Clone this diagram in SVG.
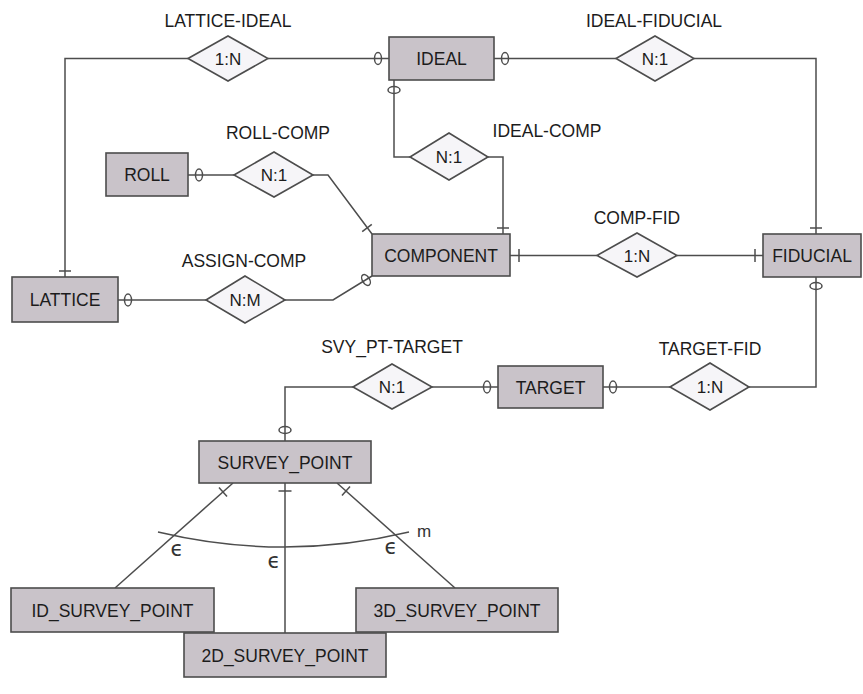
<svg xmlns="http://www.w3.org/2000/svg" width="863" height="694" viewBox="0 0 863 694">
  <style>
    .ent { fill: #c9c3c9; stroke: #4d4d4d; stroke-width: 1.6; }
    .rel { fill: #f6f5f8; stroke: #4d4d4d; stroke-width: 1.6; }
    .txt { font-family: "Liberation Sans", Arial, sans-serif; font-size: 17.5px; fill: #1c1c1c; text-anchor: middle; }
    .rtx { font-family: "Liberation Sans", Arial, sans-serif; font-size: 17px; fill: #1c1c1c; text-anchor: middle; }
    .lbl { font-family: "Liberation Sans", Arial, sans-serif; font-size: 17.5px; fill: #1c1c1c; text-anchor: middle; }
    .ln { fill: none; stroke: #4d4d4d; stroke-width: 1.5; }
    .opt { fill: none; stroke: #4d4d4d; stroke-width: 1.5; }
    .sym { font-family: "DejaVu Sans", sans-serif; font-size: 21px; fill: #333; text-anchor: middle; }
    .m { font-family: "Liberation Sans", Arial, sans-serif; font-size: 17px; fill: #333; text-anchor: middle; }
  </style>

  <!-- connectors -->
  <g id="connectors">
    <path class="ln" d="M65,277 V58.5 H188"/>
    <path class="ln" d="M268,58.5 H389"/>
    <path class="ln" d="M494,58.5 H616"/>
    <path class="ln" d="M694,58.5 H816 V234"/>
    <path class="ln" d="M394,80 V157 H410"/>
    <path class="ln" d="M488,157 H503 V234"/>
    <path class="ln" d="M188,175 H234"/>
    <path class="ln" d="M313,175 H328 L372,234"/>
    <path class="ln" d="M510,255.5 H597"/>
    <path class="ln" d="M677,255.5 H763"/>
    <path class="ln" d="M118,300 H206"/>
    <path class="ln" d="M285,300 H333 L372,276"/>
    <path class="ln" d="M285,441 V387 H353"/>
    <path class="ln" d="M432,387 H498"/>
    <path class="ln" d="M603,387 H670"/>
    <path class="ln" d="M749,387 H816 V277"/>
    <!-- specialisation of SURVEY_POINT -->
    <path class="ln" d="M233,483 L115,588"/>
    <path class="ln" d="M285,483 V633"/>
    <path class="ln" d="M337,483 L455,588"/>
    <path class="ln" d="M158,532 Q284,562 409,532"/>

    <!-- optional (zero) marks -->
    <ellipse class="opt" cx="378" cy="58.5" rx="3.5" ry="6"/>
    <ellipse class="opt" cx="505" cy="58.5" rx="3.5" ry="6"/>
    <ellipse class="opt" cx="394" cy="90" rx="6" ry="3.5"/>
    <ellipse class="opt" cx="816" cy="286" rx="6" ry="3.5"/>
    <ellipse class="opt" cx="199" cy="175" rx="3.5" ry="6"/>
    <ellipse class="opt" cx="128" cy="300" rx="3.5" ry="6"/>
    <ellipse class="opt" cx="0" cy="0" rx="3.5" ry="6" transform="translate(366,280) rotate(-31.6)"/>
    <ellipse class="opt" cx="285" cy="430" rx="6" ry="3.5"/>
    <ellipse class="opt" cx="487" cy="387" rx="3.5" ry="6"/>
    <ellipse class="opt" cx="613" cy="387" rx="3.5" ry="6"/>

    <!-- mandatory (one) ticks -->
    <path class="ln" d="M59,271 H71"/>
    <path class="ln" d="M497,228 H509"/>
    <path class="ln" d="M810,228 H822"/>
    <path class="ln" d="M519,249 V262"/>
    <path class="ln" d="M755,249 V262"/>
    <path class="ln" d="M362.2,231.6 L371.8,224.4"/>
    <path class="ln" d="M227,496.5 L219,487.5"/>
    <path class="ln" d="M278.5,491 H291.5"/>
    <path class="ln" d="M342,495.5 L350,486.5"/>

    <!-- subset and disjointness marks -->
    <text class="sym" x="177" y="556">ϵ</text>
    <text class="sym" x="274" y="568">ϵ</text>
    <text class="sym" x="391" y="554">ϵ</text>
    <text class="m" x="424" y="537">m</text>
  </g>

  <!-- entities -->
  <g id="ideal"><rect class="ent" x="389" y="37" width="105" height="43"/><text class="txt" x="441.5" y="65">IDEAL</text></g>
  <g id="roll"><rect class="ent" x="106" y="153" width="82" height="43"/><text class="txt" x="147" y="181">ROLL</text></g>
  <g id="component"><rect class="ent" x="372" y="234" width="138" height="42"/><text class="txt" x="441" y="261.5">COMPONENT</text></g>
  <g id="fiducial"><rect class="ent" x="763" y="234" width="98" height="43"/><text class="txt" x="812" y="262">FIDUCIAL</text></g>
  <g id="lattice"><rect class="ent" x="12" y="277" width="106" height="45"/><text class="txt" x="65" y="306">LATTICE</text></g>
  <g id="target"><rect class="ent" x="498" y="366" width="105" height="42"/><text class="txt" x="550.5" y="393.5">TARGET</text></g>
  <g id="survey_point"><rect class="ent" x="199" y="441" width="172" height="42"/><text class="txt" x="285" y="468.5">SURVEY_POINT</text></g>
  <g id="id_survey_point"><rect class="ent" x="11" y="588" width="203" height="44"/><text class="txt" x="112.5" y="616.5">ID_SURVEY_POINT</text></g>
  <g id="survey_point_2d"><rect class="ent" x="184" y="633" width="202" height="44"/><text class="txt" x="285" y="661.5">2D_SURVEY_POINT</text></g>
  <g id="survey_point_3d"><rect class="ent" x="356" y="588" width="202" height="44"/><text class="txt" x="457" y="616.5">3D_SURVEY_POINT</text></g>

  <!-- relationships -->
  <g id="lattice_ideal"><polygon class="rel" points="188,58.5 228,36 268,58.5 228,81"/><text class="rtx" x="228" y="64.5">1:N</text><text class="lbl" x="228" y="27">LATTICE-IDEAL</text></g>
  <g id="ideal_fiducial"><polygon class="rel" points="616,58.5 655,36 694,58.5 655,81"/><text class="rtx" x="655" y="64.5">N:1</text><text class="lbl" x="654" y="27">IDEAL-FIDUCIAL</text></g>
  <g id="ideal_comp"><polygon class="rel" points="410,157 449,133 488,157 449,180"/><text class="rtx" x="449" y="163">N:1</text><text class="lbl" x="547" y="137">IDEAL-COMP</text></g>
  <g id="roll_comp"><polygon class="rel" points="234,175 274,152 313,175 274,197"/><text class="rtx" x="274" y="181">N:1</text><text class="lbl" x="278" y="139">ROLL-COMP</text></g>
  <g id="comp_fid"><polygon class="rel" points="597,255.5 637,233 677,255.5 637,277"/><text class="rtx" x="637" y="261.5">1:N</text><text class="lbl" x="637" y="224">COMP-FID</text></g>
  <g id="assign_comp"><polygon class="rel" points="206,300 245,276 285,300 245,323"/><text class="rtx" x="245" y="306">N:M</text><text class="lbl" x="244" y="267">ASSIGN-COMP</text></g>
  <g id="svy_pt_target"><polygon class="rel" points="353,387 392,364 432,387 392,409"/><text class="rtx" x="392" y="393">N:1</text><text class="lbl" x="392" y="353">SVY_PT-TARGET</text></g>
  <g id="target_fid"><polygon class="rel" points="670,387 710,363 749,387 710,410"/><text class="rtx" x="710" y="393">1:N</text><text class="lbl" x="710" y="355">TARGET-FID</text></g>
</svg>
